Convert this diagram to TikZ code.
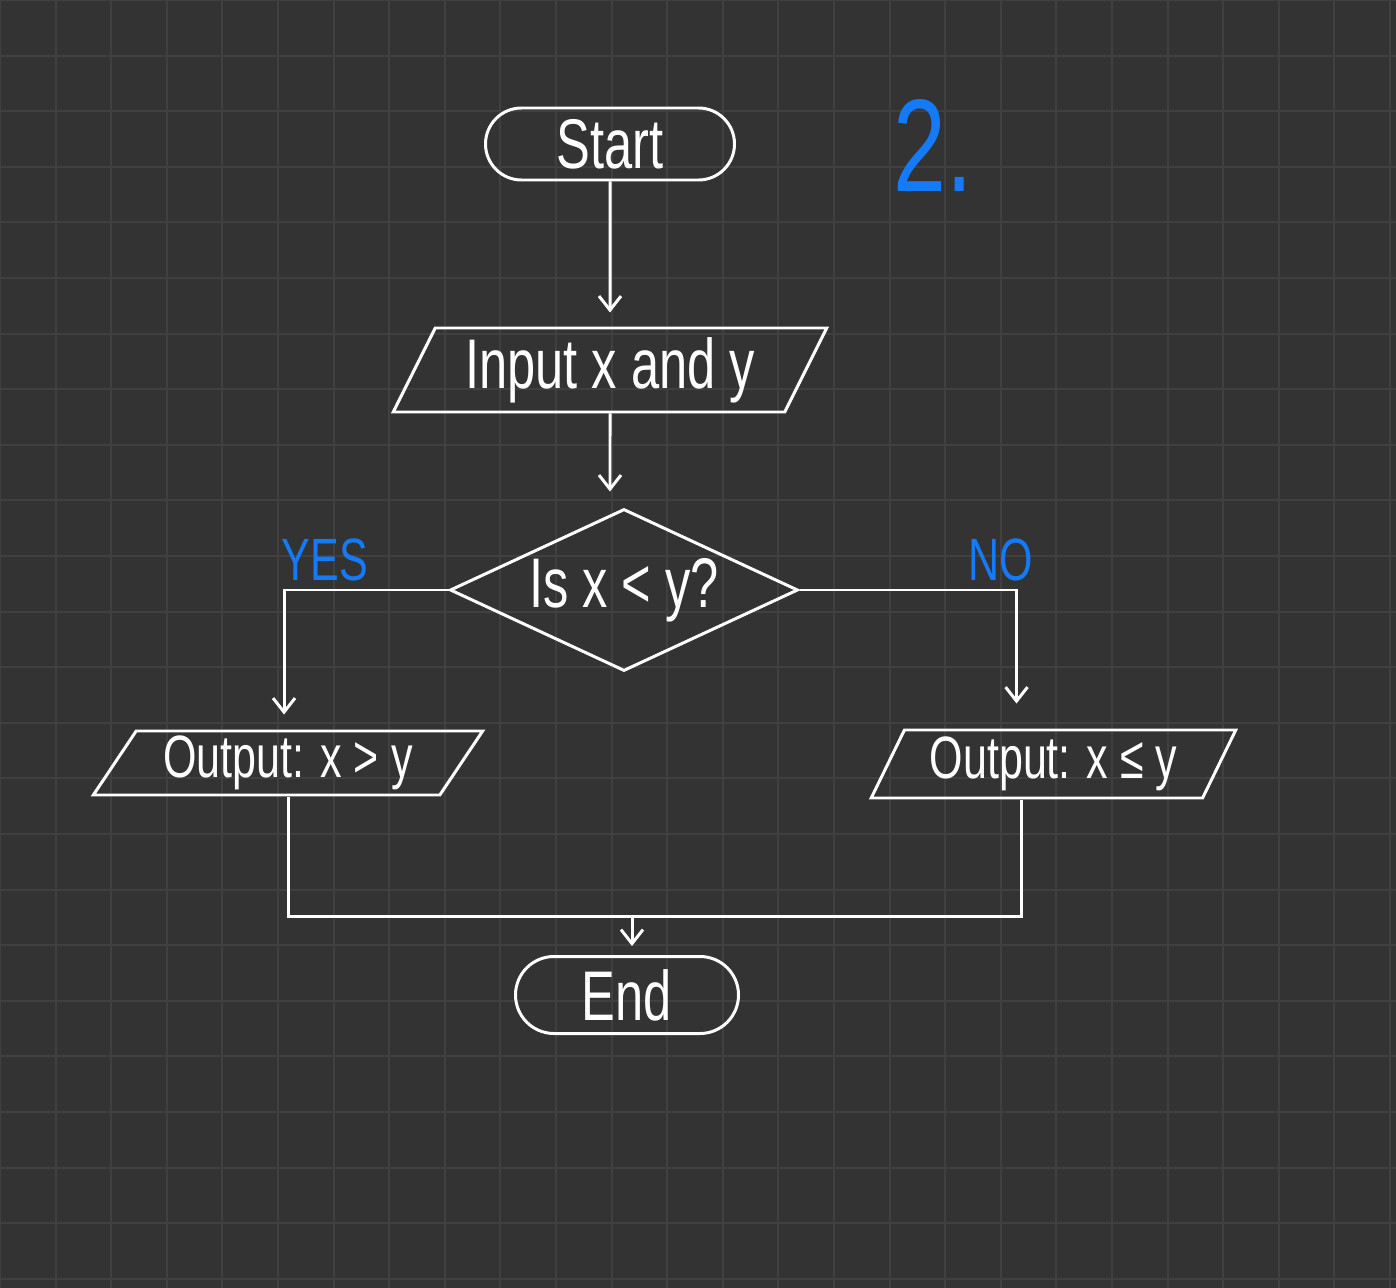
\documentclass[tikz,border=0pt]{standalone}
\usepackage{fontspec}
\newfontfamily\hand[FakeStretch=0.72]{Liberation Sans}
\usepackage{tikz}
\usetikzlibrary{positioning}
\usetikzlibrary{shapes.geometric}
\usetikzlibrary{shapes.misc}
\usetikzlibrary{arrows.meta}

\definecolor{board}{RGB}{51,51,51}
\definecolor{gridgray}{RGB}{64,64,64}
\definecolor{inkblue}{RGB}{20,122,245}

\begin{document}
\begin{tikzpicture}[
  >={Straight Barb[length=2.8mm,width=4.4mm]},
  ink/.style={draw=white, line width=1.7pt},
  term/.style={ink, rounded rectangle, text=white, inner sep=0pt,
    font=\hand\fontsize{40}{44}\selectfont},
  io/.style={ink, trapezium, trapezium stretches=true, text=white, inner sep=0pt},
  decision/.style={ink, diamond, aspect=2.15, text=white, inner sep=0pt,
    minimum width=6.96cm, minimum height=3.24cm,
    font=\hand\fontsize{40}{44}\selectfont},
  lbl/.style={text=inkblue, font=\hand\fontsize{34}{38}\selectfont},
  wire/.style={draw=white, line width=1.7pt}
]
% Board
\useasboundingbox (0,0) rectangle (27.92,-25.76);
\fill[board] (0,0) rectangle (27.92,-25.76);
\draw[gridgray, line width=1.1pt, step=1.112cm] (0,-25.76) grid (27.92,0);

% Define nodes
\node[term, minimum width=4.98cm, minimum height=1.44cm] (start) at (12.2,-2.88) {Start};
\node[io, below=2.9cm of start, trapezium left angle=62, trapezium right angle=118,
  minimum width=8.68cm, minimum height=1.68cm,
  font=\hand\fontsize{40}{44}\selectfont] (input) {Input x and y};
\node[decision, below=1.88cm of input, xshift=0.28cm] (dia) {Is x < y?};
\node[io, trapezium left angle=57, trapezium right angle=123,
  minimum width=7.8cm, minimum height=1.28cm,
  font=\hand\fontsize{34}{38}\selectfont] (outl) at (5.76,-15.26) {Output: x > y};
\node[io, trapezium left angle=63, trapezium right angle=117,
  minimum width=7.3cm, minimum height=1.36cm,
  font=\hand\fontsize{34}{38}\selectfont] (outr) at (21.07,-15.28) {Output: x ≤ y};
\node[term, minimum width=4.46cm, minimum height=1.54cm] (end) at (12.54,-19.9) {End};

% Labels
\node[lbl] (yes) at (6.5,-11.2) {YES};
\node[lbl] (no) at (20.02,-11.2) {NO};
\node[lbl, font=\hand\fontsize{75}{80}\selectfont] (num) at (18.66,-2.9) {2.};

% Edges
\coordinate (mrg) at (12.64,-18.32);
\draw[wire, ->, shorten >=0.28cm] (start) -- (start |- input.north);
\draw[wire, ->, shorten >=0.32cm] (input) -- (input |- dia.north);
\draw[wire, ->, shorten >=0.3cm] (dia.west) -| ([xshift=-0.08cm]outl.north);
\draw[wire, ->, shorten >=0.5cm] (dia.east) -| ([xshift=-0.74cm]outr.north);
\draw[wire] (outl.south) |- (mrg) -| ([xshift=-0.64cm]outr.south);
\draw[wire, ->, shorten >=0.18cm] (mrg) -- (mrg |- end.north);
\end{tikzpicture}
\end{document}
